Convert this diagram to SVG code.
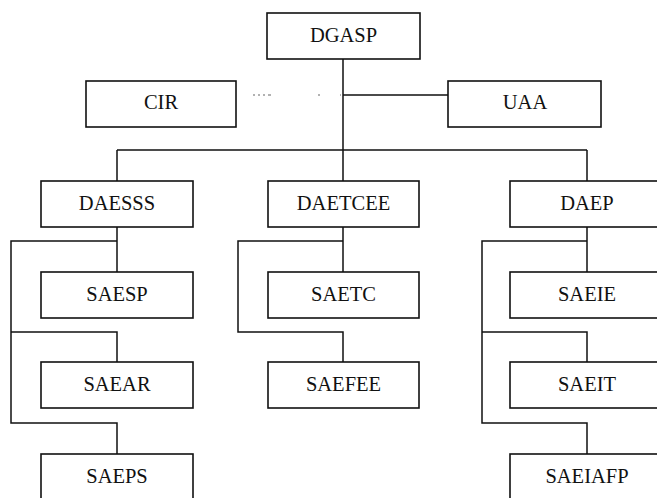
<svg xmlns="http://www.w3.org/2000/svg" width="657" height="498" viewBox="0 0 657 498">
<style>
.box{fill:#fff;stroke:#111;stroke-width:1.6}
text{font-family:'Liberation Serif','DejaVu Serif',serif;font-size:20.5px;fill:#111;text-anchor:middle}
.ln{fill:none;stroke:#111;stroke-width:1.5}
.dot{fill:none;stroke:#666;stroke-width:1.2;stroke-dasharray:2 3 2 3 2 3 3 47 2 20}
</style>
<rect width="657" height="498" fill="#fff"/>
<g id="connectors">
<path class="ln" d="M343 59V150M343 95H448M117 150H587M117 150V181M343 150V181M587 150V181"/>
<path class="dot" d="M253 95H341"/>
<path class="ln" d="M117 227V272M117 241H11V423H117V454M11 332H117V362"/>
<path class="ln" d="M343 227V272M343 241H238V332H343V362"/>
<path class="ln" d="M587 227V272M587 241H482V423H587V454M482 332H587V362"/>
</g>
<g id="DGASP"><rect class="box" x="267" y="13" width="153" height="46"/><text x="343.5" y="42" font-family="Liberation Serif, serif">DGASP</text></g>
<g id="CIR"><rect class="box" x="86" y="81" width="150" height="46"/><text x="161" y="109" font-family="Liberation Serif, serif">CIR</text></g>
<g id="UAA"><rect class="box" x="448" y="81" width="153" height="46"/><text x="525" y="109" font-family="Liberation Serif, serif">UAA</text></g>
<g id="DAESSS"><rect class="box" x="41" y="181" width="152" height="46"/><text x="117" y="210" font-family="Liberation Serif, serif">DAESSS</text></g>
<g id="DAETCEE"><rect class="box" x="268" y="181" width="151" height="46"/><text x="343.5" y="210" font-family="Liberation Serif, serif">DAETCEE</text></g>
<g id="DAEP"><rect class="box" x="510" y="181" width="154" height="46"/><text x="587" y="210" font-family="Liberation Serif, serif">DAEP</text></g>
<g id="SAESP"><rect class="box" x="41" y="272" width="152" height="46"/><text x="117" y="301" font-family="Liberation Serif, serif">SAESP</text></g>
<g id="SAETC"><rect class="box" x="268" y="272" width="151" height="46"/><text x="343.5" y="301" font-family="Liberation Serif, serif">SAETC</text></g>
<g id="SAEIE"><rect class="box" x="510" y="272" width="154" height="46"/><text x="587" y="301" font-family="Liberation Serif, serif">SAEIE</text></g>
<g id="SAEAR"><rect class="box" x="41" y="362" width="152" height="46"/><text x="117" y="391" font-family="Liberation Serif, serif">SAEAR</text></g>
<g id="SAEFEE"><rect class="box" x="268" y="362" width="151" height="46"/><text x="343.5" y="391" font-family="Liberation Serif, serif">SAEFEE</text></g>
<g id="SAEIT"><rect class="box" x="510" y="362" width="154" height="46"/><text x="587" y="391" font-family="Liberation Serif, serif">SAEIT</text></g>
<g id="SAEPS"><rect class="box" x="41" y="454" width="152" height="48"/><text x="117" y="483" font-family="Liberation Serif, serif">SAEPS</text></g>
<g id="SAEIAFP"><rect class="box" x="510" y="454" width="154" height="48"/><text x="587" y="483" font-family="Liberation Serif, serif">SAEIAFP</text></g>
</svg>
